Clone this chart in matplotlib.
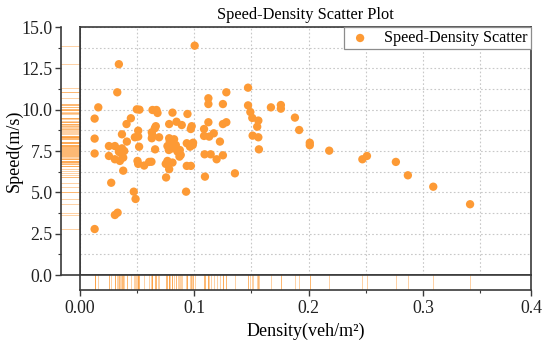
import matplotlib
matplotlib.use("Agg")
import matplotlib.pyplot as plt
from matplotlib.ticker import FixedLocator, MultipleLocator
import numpy as np

plt.rcParams['font.family'] = ['Liberation Serif', 'DejaVu Serif']

density = [0.0128, 0.0128, 0.0128, 0.0128, 0.016, 0.0253, 0.0253, 0.0273, 0.0305, 0.0305,
           0.0305, 0.0329, 0.0326, 0.034, 0.034, 0.0349, 0.0358, 0.0367, 0.0367, 0.0378,
           0.0378, 0.0387, 0.0407, 0.041, 0.0445, 0.047, 0.0486, 0.048, 0.0497, 0.052,
           0.0509, 0.0509, 0.0517, 0.0503, 0.0509, 0.0561, 0.0605, 0.0625, 0.0628, 0.0634,
           0.0634, 0.0669, 0.0678, 0.0663, 0.0654, 0.0692, 0.0657, 0.0809, 0.094, 0.0844,
           0.078, 0.089, 0.0977, 0.0969, 0.078, 0.0785, 0.0823, 0.0765, 0.0838, 0.0809,
           0.0853, 0.0934, 0.0989, 0.0962, 0.0881, 0.0873, 0.0777, 0.0765, 0.075, 0.0809,
           0.078, 0.0753, 0.0934, 0.0928, 0.097, 0.1003, 0.0986, 0.109, 0.1143, 0.1093,
           0.1085, 0.1085, 0.113, 0.117, 0.1123, 0.1123, 0.1123, 0.1195, 0.125, 0.1224,
           0.125, 0.128, 0.125, 0.128, 0.1355, 0.147, 0.147, 0.149, 0.1507, 0.156,
           0.155, 0.151, 0.156, 0.1565, 0.167, 0.1757, 0.1757, 0.188, 0.1917, 0.201,
           0.201, 0.218, 0.247, 0.251, 0.2763, 0.2868, 0.309, 0.3412, 0.087, 0.0628]
speed = [2.78, 7.35, 8.25, 9.46, 10.14, 7.8, 7.2, 5.58, 7.8, 7.0,
         3.63, 3.77, 11.05, 12.75, 7.46, 6.9, 7.36, 8.51, 7.66, 7.1,
         6.31, 7.5, 9.13, 8.07, 9.48, 5.04, 4.6, 8.33, 10.02, 10.0,
         8.73, 8.37, 7.76, 6.9, 6.72, 6.62, 6.84, 6.85, 8.63, 8.43,
         9.98, 9.98, 9.8, 9.0, 8.87, 8.33, 7.6, 9.82, 9.74, 9.27,
         9.13, 9.07, 9.0, 8.83, 8.27, 8.07, 8.21, 7.8, 7.86, 7.66,
         7.46, 7.97, 8.0, 7.76, 7.26, 7.56, 7.56, 6.9, 6.72, 6.8,
         6.4, 5.9, 6.6, 5.04, 6.6, 13.87, 7.86, 7.3, 7.3, 5.95,
         8.83, 8.41, 8.37, 8.57, 9.24, 10.69, 10.34, 7.0, 7.24, 8.07,
         9.13, 9.24, 10.34, 11.05, 6.15, 11.33, 10.26, 9.86, 9.5, 9.34,
         8.97, 8.43, 8.33, 7.6, 10.14, 10.28, 10.06, 9.52, 8.77, 8.0,
         7.85, 7.52, 7.0, 7.2, 6.84, 6.03, 5.34, 4.28, 7.16, 8.27]

x_tick_values = [0.0, 0.1, 0.2, 0.3]
x_tick_labels = ['0.00', '0.1', '0.2', '0.3', '0.4']
y_ticks = [0.0, 2.5, 5.0, 7.5, 10.0, 12.5, 15.0]

ORANGE = '#FD9A35'
SPINE = '#3a3a3a'
XMAX = 0.3945

fig = plt.figure(figsize=(5.5, 3.43), dpi=100)
W, H = 550, 343
def rect(l, t, r, b):
    return [l / W, 1 - b / H, (r - l) / W, (b - t) / H]

ax = fig.add_axes(rect(80, 27, 531, 275))
axl = fig.add_axes(rect(61, 27, 80, 275), sharey=ax)
axb = fig.add_axes(rect(80, 275, 531, 290), sharex=ax)

ax.scatter(density, speed, s=36, color=ORANGE, edgecolors='none', zorder=3,
           label='Speed-Density Scatter')
ax.set_xlim(0, XMAX)
ax.set_ylim(0, 15)

ax.xaxis.set_major_locator(FixedLocator(x_tick_values + [XMAX]))
ax.xaxis.set_minor_locator(MultipleLocator(0.05))
ax.yaxis.set_major_locator(FixedLocator(y_ticks))
ax.yaxis.set_minor_locator(MultipleLocator(1.25))
ax.grid(True, which='both', linestyle=(0, (1.5, 2.0)), color='#c8c8c8', linewidth=0.8)
ax.tick_params(which='both', length=0, labelbottom=False, labelleft=False)
for s in ax.spines.values():
    s.set_color(SPINE)
    s.set_linewidth(1.2)

leg = ax.legend(loc='upper right', borderaxespad=0, fancybox=False, framealpha=1,
                edgecolor='#8c8c8c', fontsize=11.6, handletextpad=0.7,
                borderpad=0.2, handlelength=1.6)
leg.get_frame().set_linewidth(0.9)

# left rug
for v in speed:
    axl.axhline(v, color=ORANGE, alpha=0.45, linewidth=0.7)
axl.set_xticks([])
axl.spines['top'].set_visible(False)
for s in ['left', 'bottom', 'right']:
    axl.spines[s].set_color(SPINE)
    axl.spines[s].set_linewidth(1.2)
axl.tick_params(axis='y', which='major', length=4, width=1, colors=SPINE,
                labelsize=12.8, labelcolor='#222222', pad=2)
axl.tick_params(axis='y', which='minor', length=2, width=0.8, colors=SPINE)
axl.set_yticks(y_ticks)
axl.set_yticklabels([f'{v:.1f}' for v in y_ticks])
axl.set_ylabel('Speed(m/s)', fontsize=13, labelpad=-1)

# bottom rug
for v in density:
    axb.axvline(v, color=ORANGE, alpha=0.45, linewidth=0.7)
axb.set_yticks([])
for s in axb.spines.values():
    s.set_color(SPINE)
    s.set_linewidth(1.2)
axb.tick_params(axis='x', which='major', length=4, width=1, colors=SPINE,
                labelsize=12.8, labelcolor='#222222', pad=3)
axb.tick_params(axis='x', which='minor', length=2, width=0.8, colors=SPINE)
axb.set_xticklabels(x_tick_labels)
axb.set_xlabel('Density(veh/m²)', fontsize=13, labelpad=4)

ax.set_title('Speed-Density Scatter Plot', fontsize=11.8, pad=6)

fig.savefig('out.png', dpi=100)
